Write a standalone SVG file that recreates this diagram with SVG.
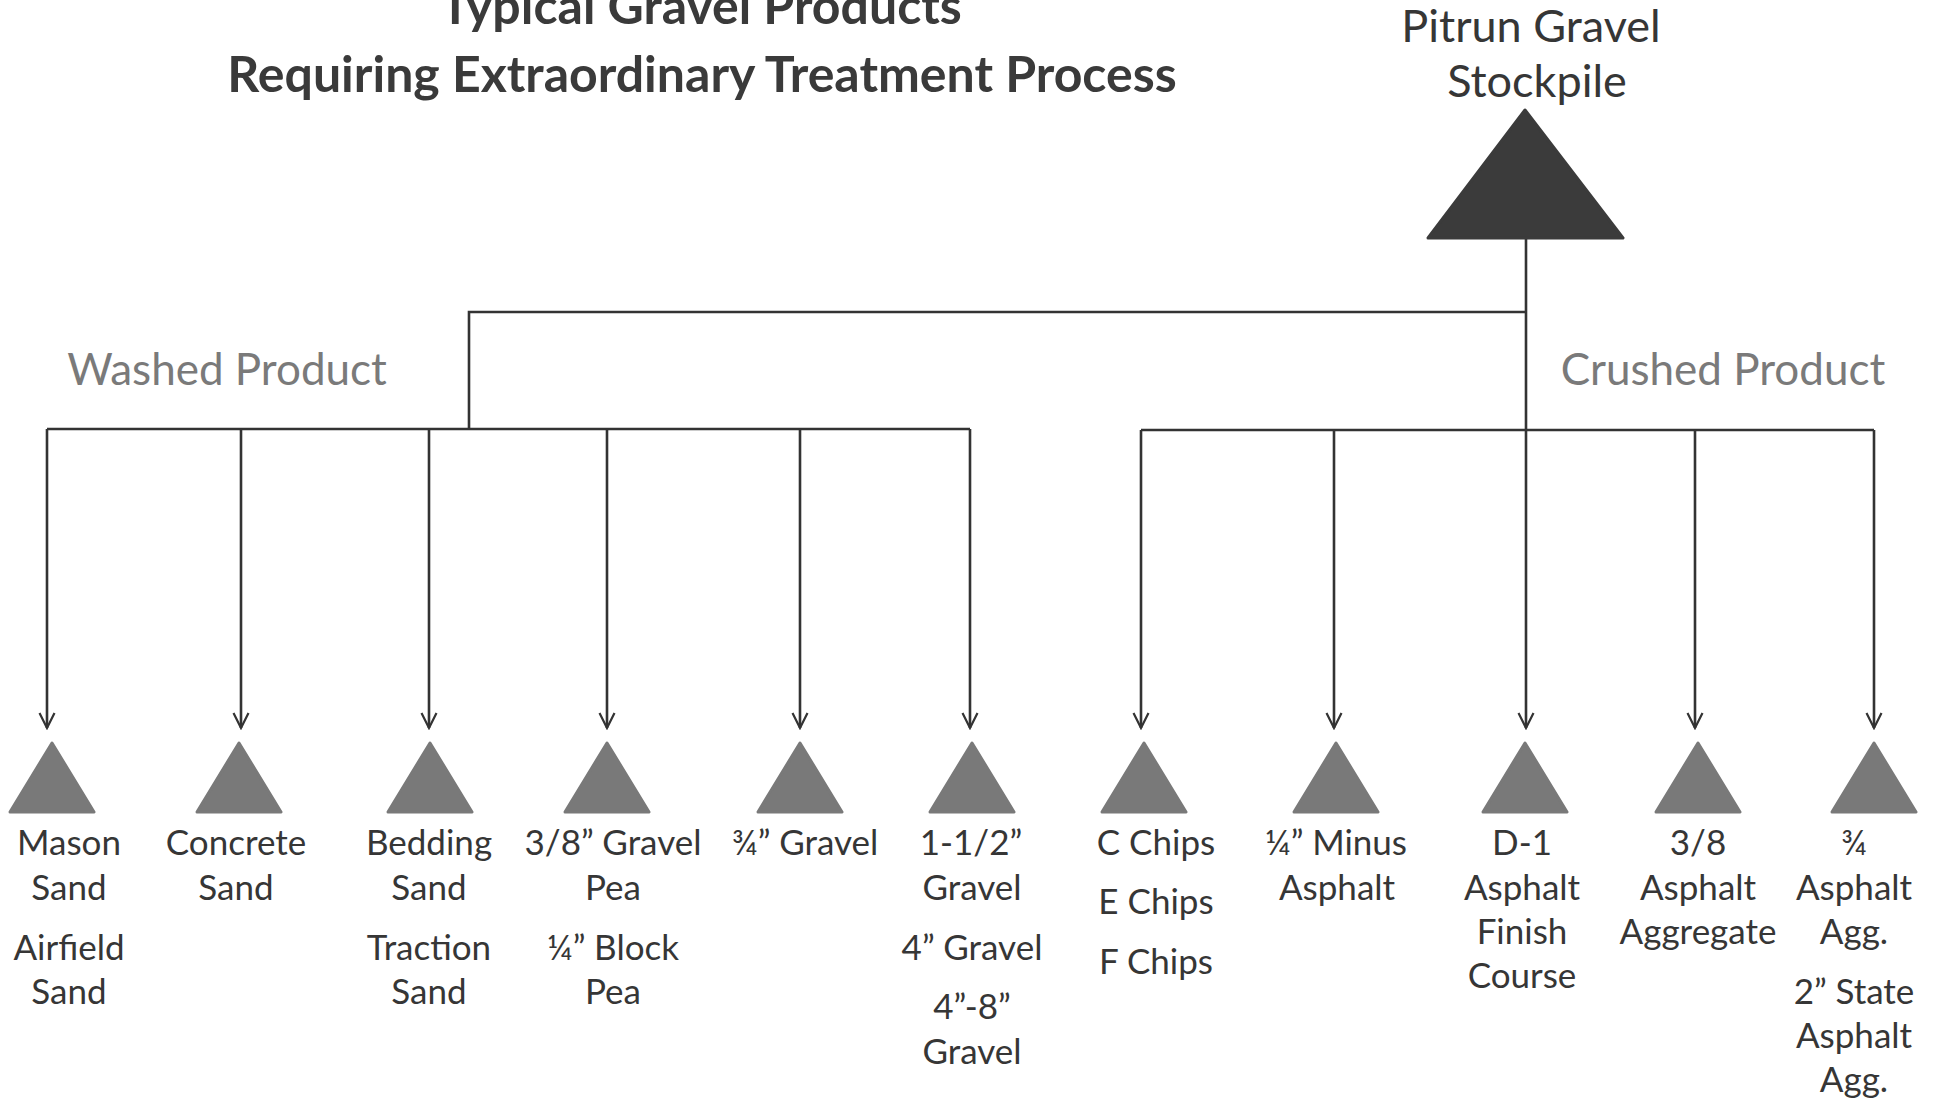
<svg xmlns="http://www.w3.org/2000/svg" width="1935" height="1102" viewBox="0 0 1935 1102">
<style>
text{font-family:Lato,"Open Sans","Liberation Sans",sans-serif;fill:#363636;text-anchor:middle}
.title{font-weight:bold;font-size:50px;fill:#3a3a3a}
.cat{font-size:44px;fill:#7a7a7a}
.pit{font-size:45px}
.lbl{font-size:35px}
.tri{fill:#797979;stroke:#797979;stroke-width:3;stroke-linejoin:round}
.big{fill:#3b3b3b;stroke:#3b3b3b;stroke-width:3;stroke-linejoin:round}
.ln{fill:none;stroke:#333;stroke-width:2.6}
.ar{marker-end:url(#arr)}
</style>
<defs>
<marker id="arr" viewBox="0 0 18 18" refX="16" refY="9" markerWidth="18" markerHeight="18" markerUnits="userSpaceOnUse" orient="auto">
<path d="M1,1.5 L16,9 L1,16.5" fill="none" stroke="#333" stroke-width="2.2"/>
</marker>
</defs>
<rect width="1935" height="1102" fill="#fff"/>
<g id="title">
<text class="title" x="701" y="24">Typical Gravel Products</text>
<text class="title" x="702" y="92">Requiring Extraordinary Treatment Process</text>
</g>
<g id="washed-label"><text class="cat" x="227" y="385">Washed Product</text></g>
<g id="crushed-label"><text class="cat" x="1723" y="385">Crushed Product</text></g>
<g id="connectors">
<path class="ln ar" d="M1526,238 V728"/>
<path class="ln" d="M1526,312 H469 V429"/>
<path class="ln" d="M47,429 H970"/>
<path class="ln" d="M1141,430 H1874"/>
<path class="ln ar" d="M47,429 V728"/>
<path class="ln ar" d="M241,429 V728"/>
<path class="ln ar" d="M429,429 V728"/>
<path class="ln ar" d="M607,429 V728"/>
<path class="ln ar" d="M800,429 V728"/>
<path class="ln ar" d="M970,429 V728"/>
<path class="ln ar" d="M1141,430 V728"/>
<path class="ln ar" d="M1334,430 V728"/>
<path class="ln ar" d="M1695,430 V728"/>
<path class="ln ar" d="M1874,430 V728"/>
</g>
<g id="pitrun">
<text class="pit" x="1531" y="42">Pitrun Gravel</text>
<text class="pit" x="1537" y="97">Stockpile</text>
<polygon class="big" points="1525,110 1623,238 1428,238"/>
</g>
<g id="mason">
<polygon class="tri" points="52,743 94,812 10,812"/>
<text class="lbl" x="69" y="855">Mason</text><text class="lbl" x="69" y="900">Sand</text>
<text class="lbl" x="69" y="960">Airfield</text><text class="lbl" x="69" y="1004">Sand</text>
</g>
<g id="concrete">
<polygon class="tri" points="239,743 281,812 197,812"/>
<text class="lbl" x="236" y="855">Concrete</text><text class="lbl" x="236" y="900">Sand</text>
</g>
<g id="bedding">
<polygon class="tri" points="430,743 472,812 388,812"/>
<text class="lbl" x="429" y="855">Bedding</text><text class="lbl" x="429" y="900">Sand</text>
<text class="lbl" x="429" y="960">Traction</text><text class="lbl" x="429" y="1004">Sand</text>
</g>
<g id="gravel-38">
<polygon class="tri" points="607,743 649,812 565,812"/>
<text class="lbl" x="613" y="855">3/8” Gravel</text><text class="lbl" x="613" y="900">Pea</text>
<text class="lbl" x="613" y="960">¼” Block</text><text class="lbl" x="613" y="1004">Pea</text>
</g>
<g id="gravel-34">
<polygon class="tri" points="800,743 842,812 758,812"/>
<text class="lbl" x="805" y="855">¾” Gravel</text>
</g>
<g id="gravel-112">
<polygon class="tri" points="972,743 1014,812 930,812"/>
<text class="lbl" x="971" y="855">1-1/2”</text><text class="lbl" x="972" y="900">Gravel</text>
<text class="lbl" x="972" y="960">4” Gravel</text>
<text class="lbl" x="972" y="1019">4”-8”</text><text class="lbl" x="972" y="1064">Gravel</text>
</g>
<g id="chips">
<polygon class="tri" points="1144,743 1186,812 1102,812"/>
<text class="lbl" x="1156" y="855">C Chips</text>
<text class="lbl" x="1156" y="914">E Chips</text>
<text class="lbl" x="1156" y="974">F Chips</text>
</g>
<g id="minus-asphalt">
<polygon class="tri" points="1336,743 1378,812 1294,812"/>
<text class="lbl" x="1336" y="855">¼” Minus</text><text class="lbl" x="1337" y="900">Asphalt</text>
</g>
<g id="d1">
<polygon class="tri" points="1525,743 1567,812 1483,812"/>
<text class="lbl" x="1522" y="855">D-1</text><text class="lbl" x="1522" y="900">Asphalt</text>
<text class="lbl" x="1522" y="944">Finish</text><text class="lbl" x="1522" y="988">Course</text>
</g>
<g id="asphalt-38">
<polygon class="tri" points="1698,743 1740,812 1656,812"/>
<text class="lbl" x="1698" y="855">3/8</text><text class="lbl" x="1698" y="900">Asphalt</text>
<text class="lbl" x="1698" y="944">Aggregate</text>
</g>
<g id="asphalt-34">
<polygon class="tri" points="1874,743 1916,812 1832,812"/>
<text class="lbl" x="1854" y="855">¾</text><text class="lbl" x="1854" y="900">Asphalt</text>
<text class="lbl" x="1854" y="944">Agg.</text>
<text class="lbl" x="1854" y="1004">2” State</text><text class="lbl" x="1854" y="1048">Asphalt</text>
<text class="lbl" x="1854" y="1092">Agg.</text>
</g>
</svg>
